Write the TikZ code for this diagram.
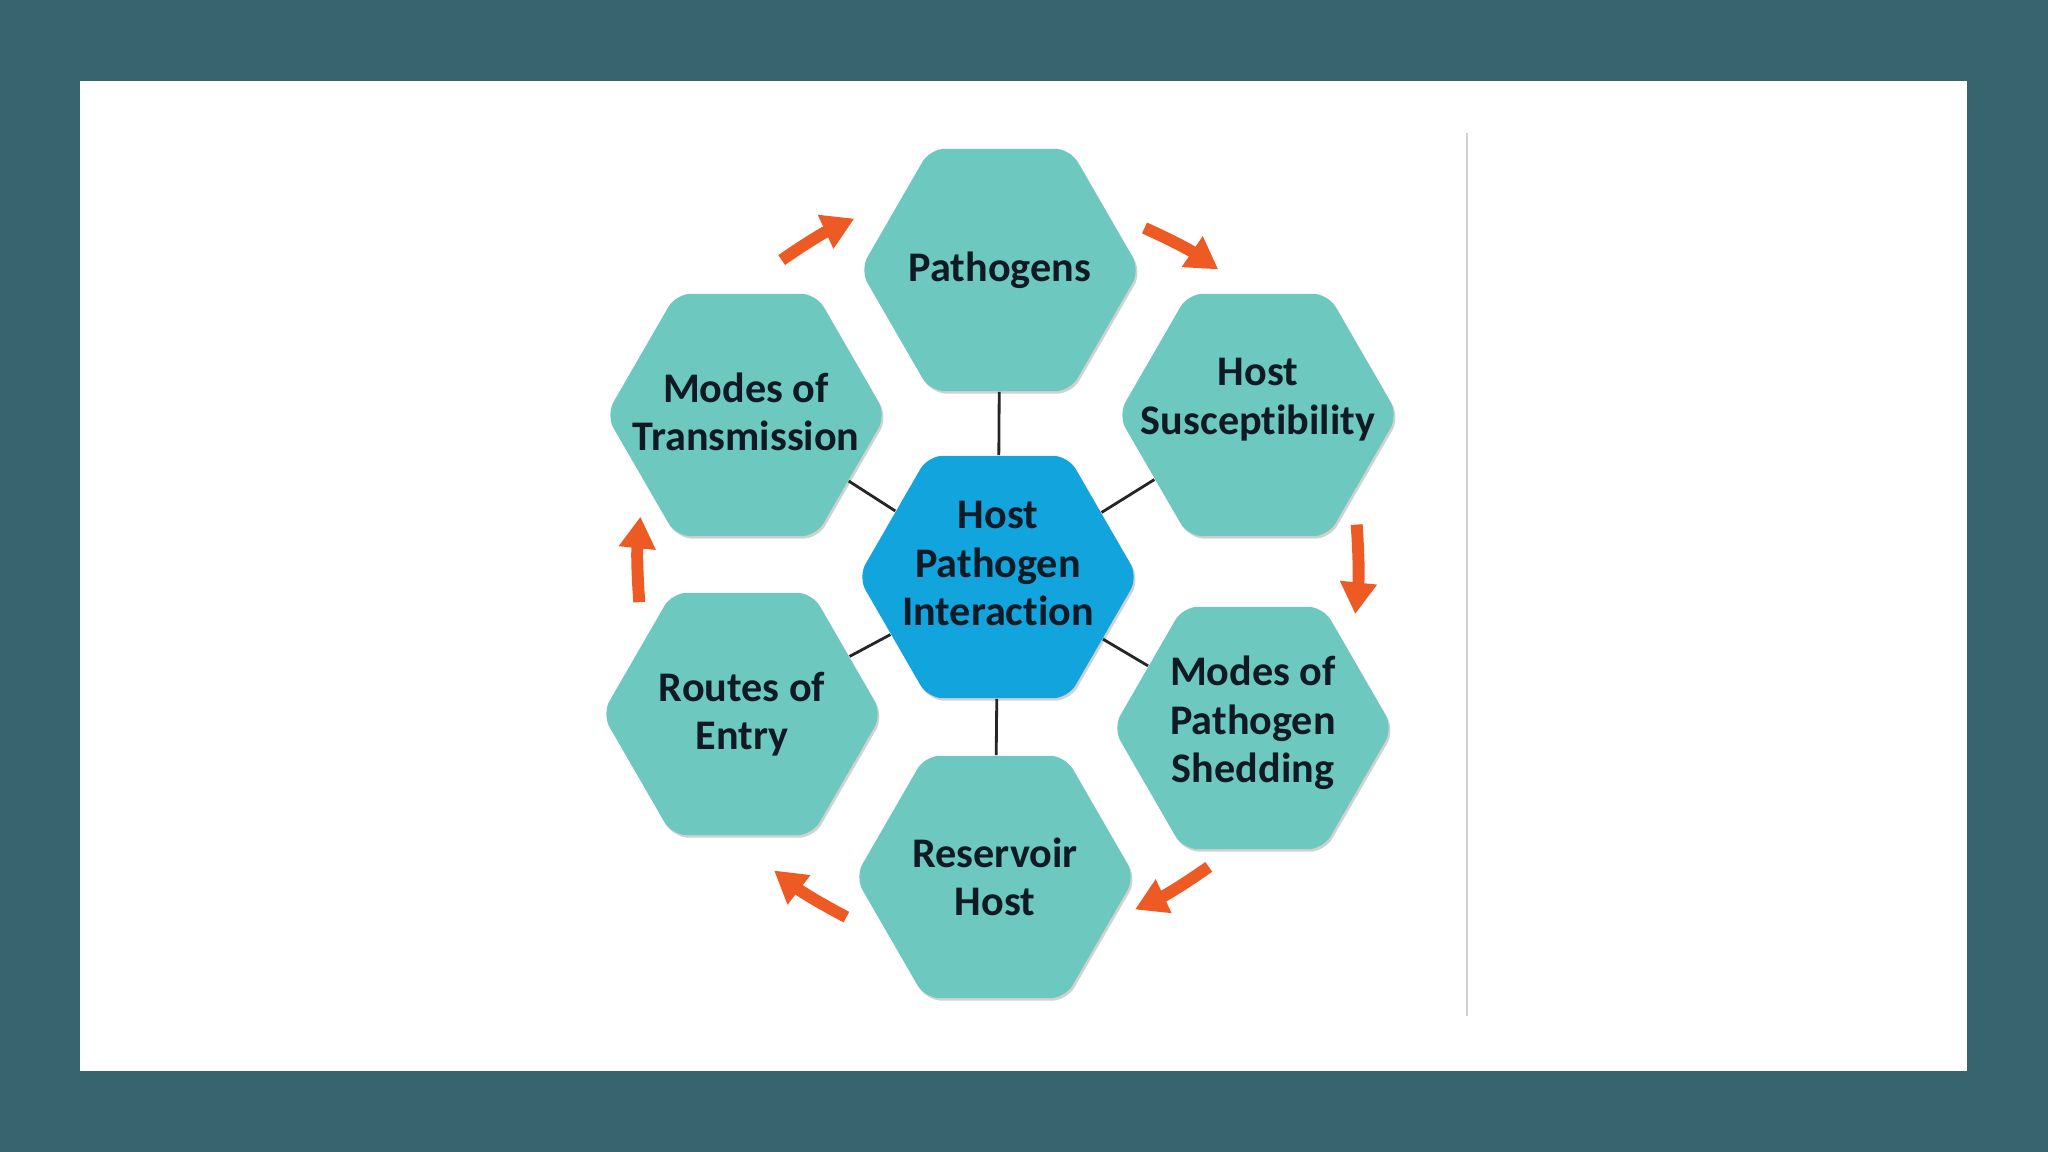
\documentclass[tikz,border=0pt]{standalone}
\usepackage{fontspec}
\setmainfont{Carlito}[Ligatures=NoCommon]
\usetikzlibrary{shapes.geometric,arrows.meta,calc,shadows}
\definecolor{slate}{HTML}{37646E}
\definecolor{hexteal}{HTML}{6DC8BF}
\definecolor{hexblue}{HTML}{12A4DD}
\definecolor{cycorange}{HTML}{EE5A24}
\definecolor{ink}{HTML}{0F1A24}
\tikzset{
  hex/.style={regular polygon, regular polygon sides=6, minimum size=2.8cm, inner xsep=-20pt, inner ysep=0pt,
    rounded corners=0.15cm, fill=hexteal, align=center, text=ink,
    font=\fontsize{12}{13.8}\selectfont\bfseries,
    drop shadow={shadow xshift=0.5pt, shadow yshift=-0.7pt, fill=black, opacity=0.18}},
  core/.style={hex, fill=hexblue},
  spoke/.style={line width=0.8pt, black!85},
  cyc/.style={cycorange, line width=3.4pt, -{Triangle[length=9pt,width=10pt]}}
}
\begin{document}
\begin{tikzpicture}

\fill [slate](0,0) rectangle (20.48,-11.52);
\fill [white](0.80,-0.81) rectangle (19.67,-10.71);
\draw [black!18, line width=0.6pt](14.67,-1.33) -- (14.67,-10.16);

\node [core, text depth=7.5pt] (hpi) at (9.98,-5.77) {Host\\Pathogen\\Interaction};
\node [hex] (path) at (10.00,-2.70) {Pathogens};
\node [hex, text depth=10.5pt] (hs) at (12.58,-4.15) {Host\\Susceptibility};
\node [hex, text depth=5pt] (shed) at (12.53,-7.28) {Modes of\\Pathogen\\Shedding};
\node [hex] (res) at (9.95,-8.77) {Reservoir\\Host};
\node [hex] (roe) at (7.42,-7.14) {Routes of\\Entry};
\node [hex, text depth=2pt] (mot) at (7.46,-4.15) {Modes of\\Transmission};

\foreach \n in {path,hs,shed,res,roe,mot}
  \draw [spoke](hpi) -- (\n);

\foreach \a/\b/\r in {mot/path/1.44,path/hs/1.40,hs/shed/1.39,shed/res/1.38,res/roe/1.45,roe/mot/1.41}{
  \coordinate (mid) at ($(\a)!.5!(\b)$);
  \coordinate (m) at ($(hpi)!\r!(mid)$);
  \draw [cyc]($(m)+.143*(\a)-.143*(\b)$) to[bend left=5] ($(m)-.143*(\a)+.143*(\b)$);
}
\end{tikzpicture}
\end{document}
